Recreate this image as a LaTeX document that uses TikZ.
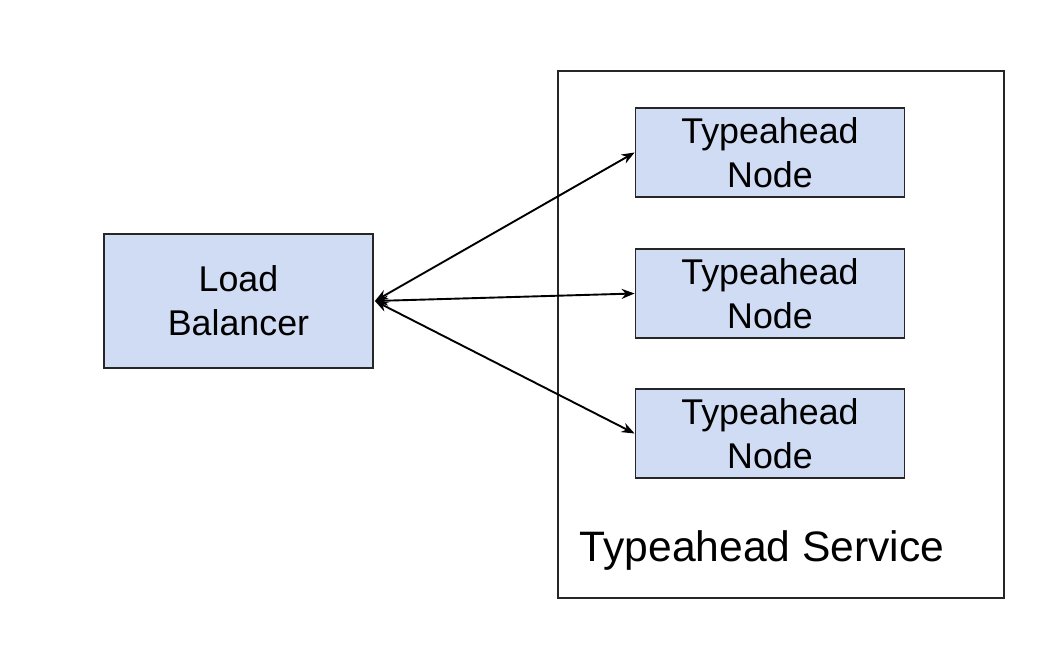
\documentclass[tikz,border=0pt]{standalone}
\usepackage{fontspec}
\setmainfont{Liberation Sans}
\usetikzlibrary{arrows.meta}
\definecolor{boxfill}{HTML}{CFDCF3}
\begin{document}
\begin{tikzpicture}[x=1pt,y=1pt,
  bluebox/.style={draw=black!85,line width=1.8pt,fill=boxfill,minimum width=269pt,minimum height=89pt,align=center,font=\fontsize{35.8}{44}\selectfont,inner sep=0pt},
  link/.style={line width=1.9pt,{Stealth[length=13pt,width=10pt]}-{Stealth[length=13pt,width=10pt]}}]
\useasboundingbox (0,0) rectangle (1049,646);
\node[draw=black!85,line width=1.8pt,minimum width=446pt,minimum height=527pt,inner sep=0pt] (svc) at (781,311.5) {};
\node[bluebox,minimum height=134pt] (lb) at (238.5,345) {Load\\Balancer};
\node[bluebox] (n1) at (770,493.5) {Typeahead\\Node};
\node[bluebox] (n2) at (770,352.5) {Typeahead\\Node};
\node[bluebox] (n3) at (770,212.5) {Typeahead\\Node};
\node[font=\fontsize{42.6}{50}\selectfont,inner sep=0pt] (svclabel) at (762,96) {Typeahead Service};
\coordinate (hub) at ([xshift=1pt]lb.east);
\draw[link] (hub) -- (n1.west);
\draw[link] (hub) -- (n2.west);
\draw[link] (hub) -- (n3.west);
\end{tikzpicture}
\end{document}
